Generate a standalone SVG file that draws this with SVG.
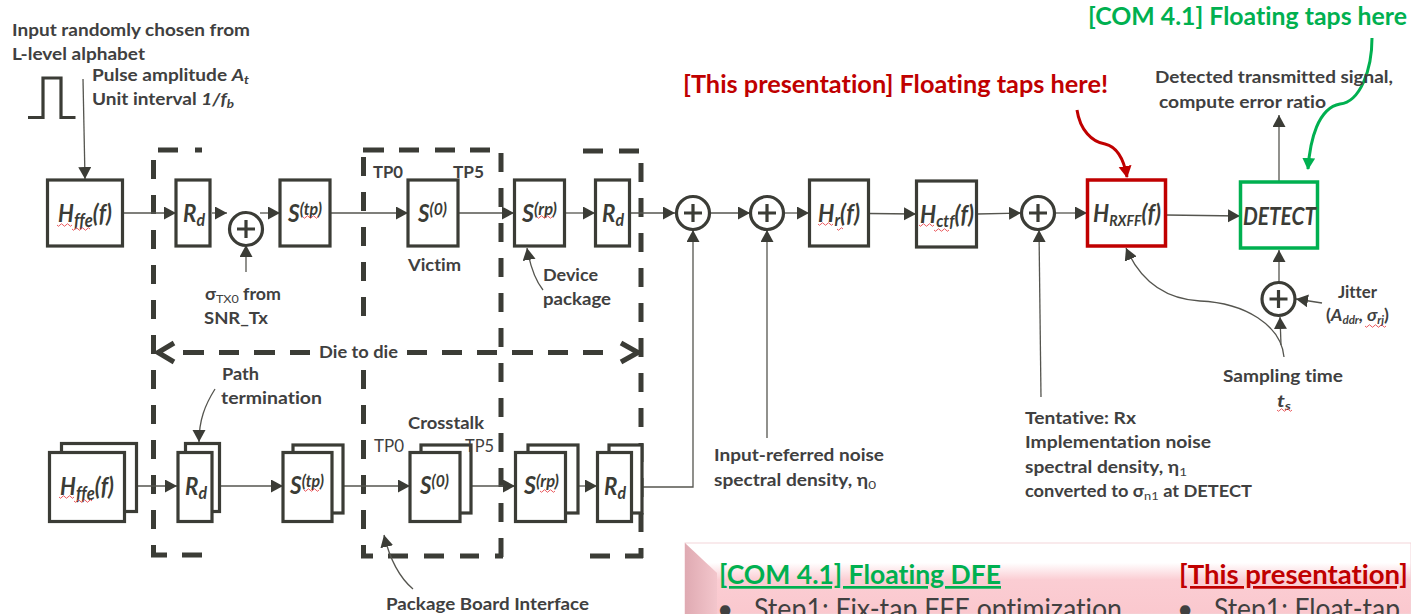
<svg xmlns="http://www.w3.org/2000/svg" width="1411" height="614" viewBox="0 0 1411 614">
<style>
text{font-family:Lato,"Open Sans","Liberation Sans",sans-serif;font-variant-ligatures:none}
.t{font-size:17px;font-weight:700;fill:#404040}
.r{font-size:17px;font-weight:400;fill:#404040}
.m{font-size:24px;font-weight:700;font-style:italic;fill:#3b3c36}
.m2{font-size:24px;font-weight:700;fill:#c00000}
.g2{font-size:24px;font-weight:700;fill:#00b050}
.b{fill:#fff;stroke:#3b3c36;stroke-width:3.2}
.c{fill:none;stroke:#3b3c36;stroke-width:3.2}
.l{fill:none;stroke:#55554f;stroke-width:1.3}
.ar{marker-end:url(#a)}
.d{fill:none;stroke:#3b3c36;stroke-width:5}
.dv{stroke-dasharray:19 16}
.sq{fill:none;stroke:#e8484d;stroke-width:.9}
.h{font-size:27px;font-weight:700;text-decoration:underline;text-decoration-skip-ink:none;text-underline-offset:5px}
.s{font-size:28px;font-weight:400;fill:#404040}
</style>
<defs>
<marker id="a" markerUnits="userSpaceOnUse" markerWidth="14" markerHeight="14" refX="12" refY="6.5" orient="auto"><path d="M0 0L12 6.5L0 13z" fill="#3b3c36"/></marker>
<marker id="ar" markerUnits="userSpaceOnUse" markerWidth="14" markerHeight="14" refX="11" refY="6.5" orient="auto"><path d="M0 0L12 6.5L0 13z" fill="#c00000"/></marker>
<marker id="ag" markerUnits="userSpaceOnUse" markerWidth="14" markerHeight="14" refX="11" refY="6.5" orient="auto"><path d="M0 0L12 6.5L0 13z" fill="#00b050"/></marker>
<linearGradient id="pg" x1="0" y1="0" x2="0" y2="1"><stop offset="0" stop-color="#fff"/><stop offset=".28" stop-color="#fff"/><stop offset=".52" stop-color="#fbcdd3"/><stop offset="1" stop-color="#fac8ce"/></linearGradient>
<linearGradient id="pb" x1="0" y1="0" x2="1" y2="0"><stop offset="0" stop-color="#dfaab2"/><stop offset="1" stop-color="#f3c6cc"/></linearGradient>
</defs>

<g id="frames">
<path class="d dv" d="M153.5 160V557M363.5 157V318M363.5 370V558M501 153V558M641 163V558"/>
<path class="d" d="M158 150H178M195 150H202M151 555H167M182 555H202M363 150H384M399 150H419M435 150H455M470 150H490M583 151H603M619 151H639M361 556H373M388 556H408M424 556H444M460 556H479M495 556H503M590 556H610M625 556H643"/>
<path class="d" d="M183 352.500H204M219 352.500H239M254 352.500H275M290 352.500H310M407 352.500H427M442 352.500H462M477 352.500H497M512 352.500H533M548 352.500H568M583 352.500H603"/>
<path class="d" d="M174 343L158 352.500L174 362M621 343L638 352.500L621 362"/>
</g>

<g id="panel">
<rect x="685" y="543" width="726" height="71" fill="url(#pg)" stroke="#f3d5d9" stroke-width="1"/>
<path d="M685 543L717 573L717 614H685z" fill="url(#pb)"/>
<text class="h" x="719" y="584" textLength="282" lengthAdjust="spacingAndGlyphs" fill="#00b050">[COM 4.1] Floating DFE</text>
<text class="h" x="1179" y="584" textLength="229" lengthAdjust="spacingAndGlyphs" fill="#c00000">[This presentation]</text>
<text class="s" x="717" y="619">•</text>
<text class="s" x="754" y="619" textLength="368" lengthAdjust="spacingAndGlyphs">Step1: Fix-tap FFE optimization</text>
<text class="s" x="1177" y="619">•</text>
<text class="s" x="1214" y="619" textLength="186" lengthAdjust="spacingAndGlyphs">Step1: Float-tap</text>
</g>

<g id="connectors">
<path class="c" d="M28 117.500H43V78H61V117.500H75.500"/>
<path class="l ar" d="M83 79L85 179"/>
<path class="l ar" d="M123 213H176"/>
<path class="l ar" d="M212 213H227"/>
<path class="l ar" d="M260 213H280"/>
<path class="l ar" d="M330 213H408"/>
<path class="l ar" d="M458 213H514"/>
<path class="l ar" d="M565 213H595"/>
<path class="l ar" d="M630 213H675"/>
<path class="l ar" d="M710 213H750"/>
<path class="l ar" d="M784 213H809"/>
<path class="l ar" d="M869 213.500L916 214"/>
<path class="l ar" d="M977 214L1021 213"/>
<path class="l ar" d="M1055 213H1087"/>
<path class="l ar" d="M1166 215L1240 216"/>
<path class="l ar" d="M1279 182V115"/>
<path class="l ar" d="M1279 282V250"/>
<path class="l ar" d="M1322 303L1296 299"/>
<path class="l ar" d="M1281 345L1280 317"/>
<path class="l ar" d="M1284 357C1281 325 1245 303 1200 301C1165 299 1140 280 1126 248"/>
<path class="l ar" d="M246 272V245"/>
<path class="l ar" d="M632 487H693V230"/>
<path class="l ar" d="M767 438V230"/>
<path class="l ar" d="M1041 397L1039 230"/>
<path class="l ar" d="M124 486H177"/>
<path class="l ar" d="M212 486H283"/>
<path class="l ar" d="M332 486H410"/>
<path class="l ar" d="M460 486H515"/>
<path class="l ar" d="M566 486H597"/>
<path class="l ar" d="M215 389C205 405 199 420 199 442"/>
<path class="l ar" d="M543 290C535 280 530 265 527 248"/>
<path class="l ar" d="M413 589C400 578 390 560 384 535"/>
<path fill="none" stroke="#c00000" stroke-width="3" marker-end="url(#ar)" d="M1077 110C1080 130 1092 142 1105 144C1118 147 1124 160 1127 177"/>
<path fill="none" stroke="#00b050" stroke-width="3" marker-end="url(#ag)" d="M1372 38C1372 70 1360 102 1340 104C1318 108 1310 140 1308 169"/>
</g>

<g id="n-hffe"><rect class="b" x="47.500" y="180" width="75" height="66"/>
<text class="m" x="58" y="222" textLength="54" lengthAdjust="spacingAndGlyphs">H<tspan font-size="18" dy="5">ffe</tspan><tspan dy="-5">(f)</tspan></text>
<path class="sq" d="M57 225q1.500 2.500 3 0t3 0t3 0t3 0t3 0M72 229q1.500 2.500 3 0t3 0t3 0t3 0t3 0t3 0"/></g>
<g id="n-rd1"><rect class="b" x="176" y="180" width="34" height="66"/>
<text class="m" x="183" y="222" textLength="22" lengthAdjust="spacingAndGlyphs">R<tspan font-size="17" dy="4">d</tspan></text></g>
<g id="n-sum-tx"><circle class="b" cx="246" cy="229" r="16.500"/><path class="c" d="M237 229H255M246 220V238"/></g>
<g id="n-stp"><rect class="b" x="280" y="180" width="50" height="66"/>
<text class="m" x="288" y="222" textLength="34" lengthAdjust="spacingAndGlyphs">S<tspan font-size="17" dy="-7">(tp)</tspan></text>
<path class="sq" d="M303 217q1.500 2.500 3 0t3 0t3 0t3 0t3 0"/></g>
<g id="n-s0"><rect class="b" x="408" y="180" width="50" height="66"/>
<text class="m" x="418" y="222" textLength="29" lengthAdjust="spacingAndGlyphs">S<tspan font-size="17" dy="-7">(0)</tspan></text></g>
<g id="n-srp"><rect class="b" x="514.500" y="180" width="50" height="66"/>
<text class="m" x="522" y="222" textLength="35" lengthAdjust="spacingAndGlyphs">S<tspan font-size="17" dy="-7">(rp)</tspan></text>
<path class="sq" d="M537 217q1.500 2.500 3 0t3 0t3 0t3 0t3 0"/></g>
<g id="n-rd2"><rect class="b" x="595.500" y="180" width="34" height="66"/>
<text class="m" x="602" y="222" textLength="22" lengthAdjust="spacingAndGlyphs">R<tspan font-size="17" dy="4">d</tspan></text></g>
<g id="n-sum-a"><circle class="b" cx="693" cy="213" r="16.500"/><path class="c" d="M684 213H702M693 204V222"/></g>
<g id="n-sum-b"><circle class="b" cx="767" cy="213" r="16.500"/><path class="c" d="M758 213H776M767 204V222"/></g>
<g id="n-hr"><rect class="b" x="809.500" y="180" width="59" height="66"/>
<text class="m" x="818" y="222" textLength="42" lengthAdjust="spacingAndGlyphs">H<tspan font-size="17" dy="4">r</tspan><tspan dy="-4">(f)</tspan></text>
<path class="sq" d="M818 224q1.500 2.500 3 0t3 0t3 0t3 0t3 0M837 229q1.500 2.500 3 0t3 0"/></g>
<g id="n-hctf"><rect class="b" x="916.500" y="181" width="60" height="66"/>
<text class="m" x="920" y="223" textLength="54" lengthAdjust="spacingAndGlyphs">H<tspan font-size="17" dy="4">ctf</tspan><tspan dy="-4">(f)</tspan></text>
<path class="sq" d="M919 225q1.500 2.500 3 0t3 0t3 0t3 0t3 0M934 230q1.500 2.500 3 0t3 0t3 0t3 0t3 0"/></g>
<g id="n-sum-c"><circle class="b" cx="1038" cy="213" r="16.500"/><path class="c" d="M1029 213H1047M1038 204V222"/></g>
<g id="n-rxff"><rect x="1087.500" y="180" width="78" height="66" fill="#fff" stroke="#c00000" stroke-width="3.500"/>
<text class="m" x="1093" y="222" textLength="68" lengthAdjust="spacingAndGlyphs">H<tspan font-size="15" dy="4">RXFF</tspan><tspan dy="-4">(f)</tspan></text></g>
<g id="n-detect"><rect x="1240.500" y="182" width="77" height="66" fill="#fff" stroke="#00b050" stroke-width="3.500"/>
<text class="m" x="1243" y="225" textLength="73" lengthAdjust="spacingAndGlyphs">DETECT</text></g>
<g id="n-sum-j"><circle class="b" cx="1278.500" cy="299" r="16.500"/><path class="c" d="M1269.500 299H1287.500M1278.500 290V308"/></g>

<g id="n-hffe-x"><rect class="b" x="61.500" y="443.500" width="75" height="68"/><rect class="b" x="49.500" y="452.500" width="75" height="69"/>
<text class="m" x="60" y="495" textLength="54" lengthAdjust="spacingAndGlyphs">H<tspan font-size="18" dy="5">ffe</tspan><tspan dy="-5">(f)</tspan></text>
<path class="sq" d="M59 497q1.500 2.500 3 0t3 0t3 0t3 0t3 0M74 501q1.500 2.500 3 0t3 0t3 0t3 0t3 0t3 0"/></g>
<g id="n-rd1-x"><rect class="b" x="185.500" y="443.500" width="34" height="68"/><rect class="b" x="178" y="452.500" width="34" height="69"/>
<text class="m" x="185" y="495" textLength="22" lengthAdjust="spacingAndGlyphs">R<tspan font-size="17" dy="4">d</tspan></text></g>
<g id="n-stp-x"><rect class="b" x="293" y="445" width="50" height="68"/><rect class="b" x="283" y="452.500" width="49" height="69"/>
<text class="m" x="290" y="494" textLength="34" lengthAdjust="spacingAndGlyphs">S<tspan font-size="17" dy="-7">(tp)</tspan></text>
<path class="sq" d="M304 490q1.500 2.500 3 0t3 0t3 0t3 0t3 0"/></g>
<g id="n-s0-x"><rect class="b" x="421" y="445" width="50" height="68"/><rect class="b" x="410" y="452.500" width="50" height="69"/>
<text class="m" x="420" y="494" textLength="29" lengthAdjust="spacingAndGlyphs">S<tspan font-size="17" dy="-7">(0)</tspan></text></g>
<g id="n-srp-x"><rect class="b" x="528" y="445" width="50" height="68"/><rect class="b" x="515.500" y="452.500" width="50" height="69"/>
<text class="m" x="524" y="494" textLength="35" lengthAdjust="spacingAndGlyphs">S<tspan font-size="17" dy="-7">(rp)</tspan></text>
<path class="sq" d="M540 491q1.500 2.500 3 0t3 0t3 0t3 0t3 0"/></g>
<g id="n-rd2-x"><rect class="b" x="609" y="445" width="33" height="68"/><rect class="b" x="597.500" y="452.500" width="34" height="69"/>
<text class="m" x="604" y="495" textLength="22" lengthAdjust="spacingAndGlyphs">R<tspan font-size="17" dy="4">d</tspan></text></g>

<g id="labels">
<text class="t" x="12" y="36" textLength="238" lengthAdjust="spacingAndGlyphs">Input randomly chosen from</text>
<text class="t" x="12" y="60" textLength="133" lengthAdjust="spacingAndGlyphs">L-level alphabet</text>
<text class="t" x="92" y="81" textLength="157" lengthAdjust="spacingAndGlyphs">Pulse amplitude <tspan font-style="italic">A<tspan font-size="12" dy="3">t</tspan></tspan></text>
<text class="t" x="92" y="105" textLength="142" lengthAdjust="spacingAndGlyphs">Unit interval <tspan font-style="italic">1/f<tspan font-size="12" dy="3">b</tspan></tspan></text>
<text class="t" x="373" y="178" textLength="30" lengthAdjust="spacingAndGlyphs">TP0</text>
<text class="t" x="453" y="178" textLength="31" lengthAdjust="spacingAndGlyphs">TP5</text>
<text class="t" x="408" y="271" textLength="53" lengthAdjust="spacingAndGlyphs">Victim</text>
<text class="t" x="205" y="300" textLength="76" lengthAdjust="spacingAndGlyphs">σ<tspan font-size="12" font-weight="400" dy="3">TX0</tspan><tspan dy="-3"> from</tspan></text>
<text class="t" x="204" y="324" textLength="64" lengthAdjust="spacingAndGlyphs">SNR_Tx</text>
<text class="t" x="543" y="281" textLength="55" lengthAdjust="spacingAndGlyphs">Device</text>
<text class="t" x="543" y="305" textLength="68" lengthAdjust="spacingAndGlyphs">package</text>
<text class="t" x="319" y="358" textLength="79" lengthAdjust="spacingAndGlyphs">Die to die</text>
<text class="t" x="222" y="380" textLength="37" lengthAdjust="spacingAndGlyphs">Path</text>
<text class="t" x="221" y="404" textLength="101" lengthAdjust="spacingAndGlyphs">termination</text>
<text class="t" x="408" y="429" textLength="76" lengthAdjust="spacingAndGlyphs">Crosstalk</text>
<text class="r" x="374" y="452" textLength="30" lengthAdjust="spacingAndGlyphs">TP0</text>
<text class="r" x="465" y="452" textLength="29" lengthAdjust="spacingAndGlyphs">TP5</text>
<text class="t" x="386" y="610" textLength="203" lengthAdjust="spacingAndGlyphs">Package Board Interface</text>
<text class="t" x="714" y="461" textLength="170" lengthAdjust="spacingAndGlyphs">Input-referred noise</text>
<text class="t" x="714" y="486" textLength="162" lengthAdjust="spacingAndGlyphs">spectral density, η<tspan font-size="12" font-weight="400" dy="3">0</tspan></text>
<text class="t" x="1025" y="424" textLength="111" lengthAdjust="spacingAndGlyphs">Tentative: Rx</text>
<text class="t" x="1025" y="448" textLength="186" lengthAdjust="spacingAndGlyphs">Implementation noise</text>
<text class="t" x="1025" y="473" textLength="162" lengthAdjust="spacingAndGlyphs">spectral density, η<tspan font-size="12" font-weight="400" dy="3">1</tspan></text>
<text class="t" x="1025" y="497" textLength="227" lengthAdjust="spacingAndGlyphs">converted to σ<tspan font-size="12" font-weight="400" dy="3">n1</tspan><tspan dy="-3"> at DETECT</tspan></text>
<text class="t" x="1223" y="382" textLength="120" lengthAdjust="spacingAndGlyphs">Sampling time</text>
<text class="t" x="1277" y="407" font-style="italic" textLength="14" lengthAdjust="spacingAndGlyphs">t<tspan font-size="12" dy="3">s</tspan></text>
<path class="sq" d="M1277 410q1.500 2.500 3 0t3 0t3 0t3 0t3 0"/>
<text class="t" x="1338" y="298" font-size="15" textLength="39" lengthAdjust="spacingAndGlyphs">Jitter</text>
<text class="t" x="1326" y="321" textLength="63" lengthAdjust="spacingAndGlyphs">(<tspan font-style="italic">A<tspan font-size="11" dy="3">ddr</tspan><tspan dy="-3">, σ</tspan><tspan font-size="11" dy="3">rj</tspan></tspan><tspan dy="-3">)</tspan></text>
<path class="sq" d="M1365 326q1.500 2.500 3 0t3 0t3 0t3 0t3 0t3 0t3 0"/>
<text class="t" x="1155" y="83" textLength="238" lengthAdjust="spacingAndGlyphs">Detected transmitted signal,</text>
<text class="t" x="1159" y="108" textLength="167" lengthAdjust="spacingAndGlyphs">compute error ratio</text>
<text class="m2" x="683" y="93" textLength="425" lengthAdjust="spacingAndGlyphs">[This presentation] Floating taps here!</text>
<text class="g2" x="1088" y="25" textLength="319" lengthAdjust="spacingAndGlyphs">[COM 4.1] Floating taps here</text>
</g>
</svg>
